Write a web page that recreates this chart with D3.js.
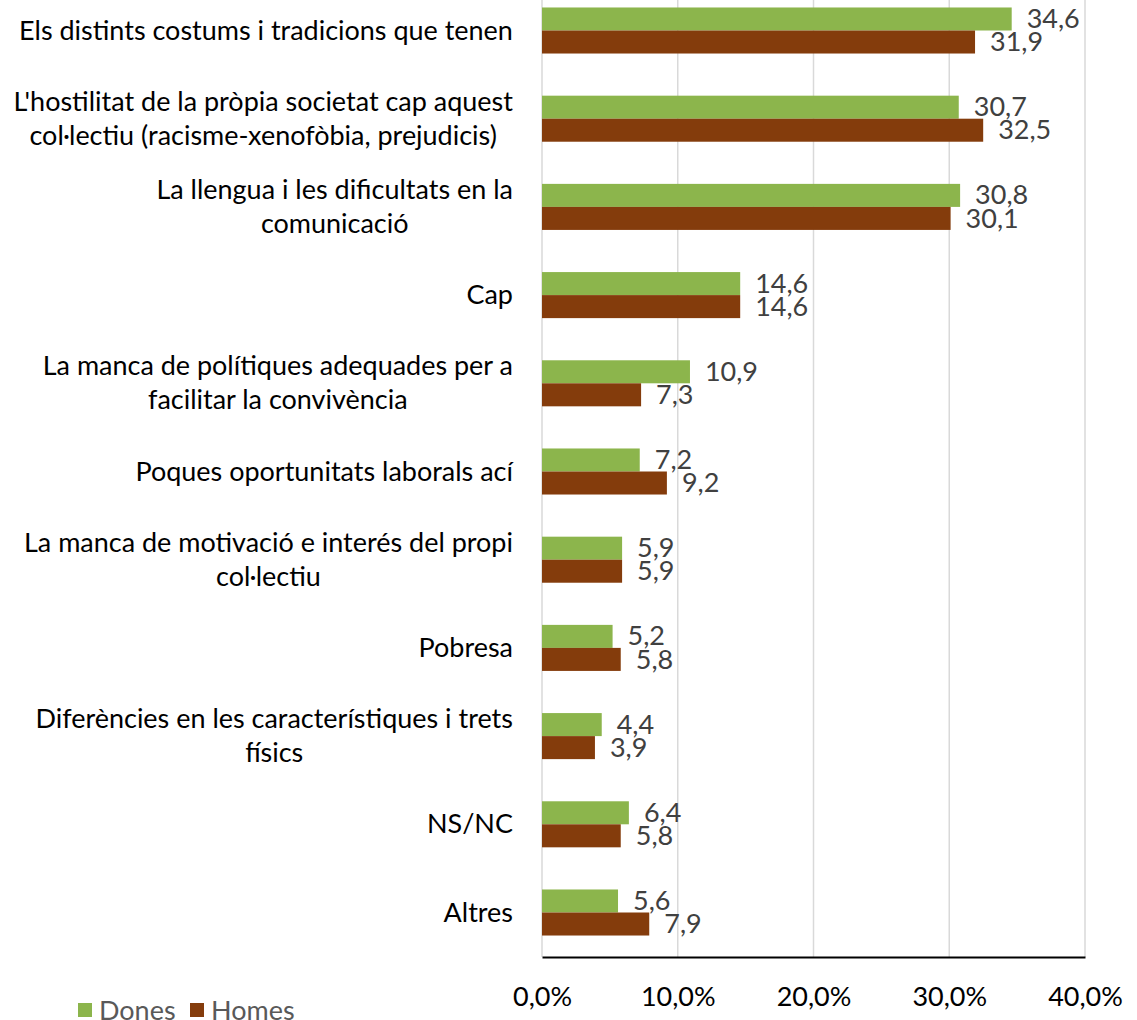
<!DOCTYPE html>
<html><head><meta charset="utf-8">
<script src="https://cdn.jsdelivr.net/npm/d3@7"></script>
<style>
body{margin:0;background:#fff}
svg{display:block}
text{font-family:Lato,'Open Sans',sans-serif}
</style>
</head><body>
<svg id="c" width="1137" height="1020"></svg>
<script>
const categories = [
  "Els distints costums i tradicions que tenen",
  "L'hostilitat de la pròpia societat cap aquest\ncol·lectiu (racisme-xenofòbia, prejudicis)",
  "La llengua i les dificultats en la\ncomunicació",
  "Cap",
  "La manca de polítiques adequades per a\nfacilitar la convivència",
  "Poques oportunitats laborals ací",
  "La manca de motivació e interés del propi\ncol·lectiu",
  "Pobresa",
  "Diferències en les característiques i trets\nfísics",
  "NS/NC",
  "Altres"
];
const dones = [34.6, 30.7, 30.8, 14.6, 10.9, 7.2, 5.9, 5.2, 4.4, 6.4, 5.6];
const homes = [31.9, 32.5, 30.1, 14.6, 7.3, 9.2, 5.9, 5.8, 3.9, 5.8, 7.9];
const seriesNames = ["Dones", "Homes"];
const xTicks = [0, 10, 20, 30, 40];
const colors = {Dones: "#8CB54C", Homes: "#843C0C"};

const svg = d3.select("#c");
const FS = 26;
// horizontal compression so the text matches the reference's narrow face
const probe = svg.append("text").attr("font-size", FS).text(categories[0]);
const sx = 494 / probe.node().getComputedTextLength();
probe.remove();

const x = d3.scaleLinear().domain([0, 40]).range([542, 1085]);
const y = d3.scaleBand().domain(categories).range([-13.6, 956.6])
  .paddingInner(0.478).paddingOuter(0.239);
const ys = d3.scaleBand().domain(seriesNames).range([0, y.bandwidth()]);

// gridlines
svg.append("g").selectAll("line").data(xTicks).join("line")
  .attr("x1", d => x(d)).attr("x2", d => x(d))
  .attr("y1", 0).attr("y2", 957)
  .attr("stroke", "#d9d9d9").attr("stroke-width", 1.5);

const rows = categories.map((c, i) => ({c, Dones: dones[i], Homes: homes[i]}));
const g = svg.append("g").selectAll("g").data(rows).join("g")
  .attr("transform", d => `translate(0,${y(d.c)})`);

g.selectAll("rect").data(d => seriesNames.map(s => ({s, v: d[s]}))).join("rect")
  .attr("x", x(0)).attr("y", d => ys(d.s))
  .attr("width", d => x(d.v) - x(0)).attr("height", ys.bandwidth())
  .attr("fill", d => colors[d.s]);

g.selectAll("text").data(d => seriesNames.map(s => ({s, v: d[s]}))).join("text")
  .attr("transform", d => `translate(${x(d.v) + 15},${ys(d.s) + ys.bandwidth() / 2}) scale(${sx},1)`)
  .attr("dy", "0.35em").attr("font-size", FS).attr("fill", "#404040")
  .text(d => d.v.toFixed(1).replace(".", ","));

// x axis
const xa = svg.append("g").attr("transform", "translate(0,957)")
  .call(d3.axisBottom(x).tickValues(xTicks).tickSize(0)
    .tickFormat(d => d.toFixed(1).replace(".", ",") + "%"));
xa.select(".domain").attr("stroke", "#000").attr("stroke-width", 2);
xa.selectAll("text").attr("y", 0).attr("dy", "0.35em")
  .attr("transform", `translate(0,40) scale(${sx},1)`)
  .attr("font-size", FS).attr("font-family", null).attr("fill", "#000");

// category labels
const lh = 34;
const cl = svg.append("g").selectAll("g").data(categories).join("g");
cl.each(function (c) {
  const lines = c.split("\n");
  const grp = d3.select(this);
  const cy = y(c) + y.bandwidth() / 2;
  const ts = lines.map((ln, i) => grp.append("text")
    .attr("font-size", FS).attr("fill", "#000").attr("text-anchor", "middle")
    .attr("dy", "0.35em").text(ln));
  const maxW = d3.max(ts, t => t.node().getComputedTextLength()) * sx;
  const cx = 513 - maxW / 2;
  ts.forEach((t, i) => t.attr("transform",
    `translate(${cx},${cy + (i - (lines.length - 1) / 2) * lh}) scale(${sx},1)`));
});

// legend
const lg = svg.append("g").selectAll("g").data(seriesNames).join("g")
  .attr("transform", (d, i) => `translate(${[78, 190][i]},1003)`);
lg.append("rect").attr("width", 14).attr("height", 14).attr("fill", d => colors[d]);
lg.append("text").attr("transform", `translate(21,8) scale(${sx},1)`)
  .attr("dy", "0.35em").attr("font-size", FS).attr("fill", "#595959").text(d => d);
</script>
</body></html>
